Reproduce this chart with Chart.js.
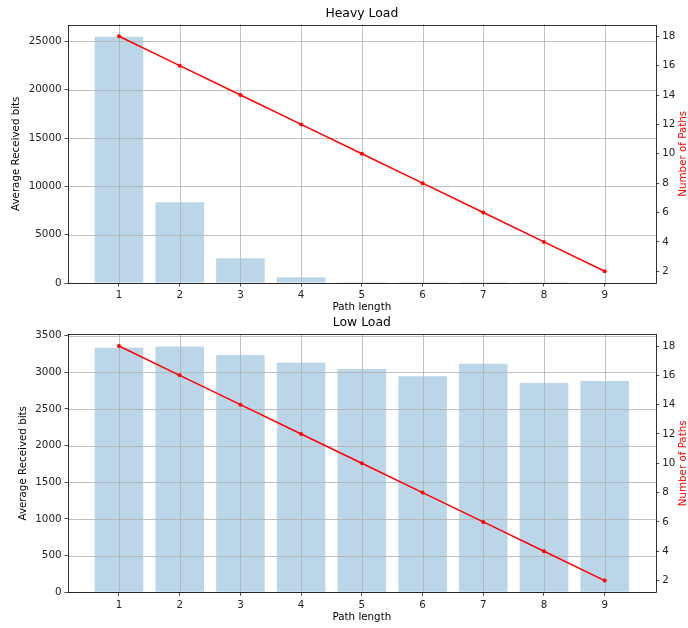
<!DOCTYPE html>
<html lang="en">
<head>
    <meta charset="UTF-8">
    <title>Heavy Load / Low Load</title>
    <script src="https://cdn.jsdelivr.net/npm/chart.js"></script>
    <style>
        body {
            margin: 0;
            padding: 0;
            background: white;
        }
        canvas {
            display: block;
        }
    </style>
</head>
<body>

<canvas id="graficoHeavy" width="688" height="314"></canvas>
<canvas id="graficoLow" width="688" height="314"></canvas>

<script>
    // Datos
    const pathLength = [1, 2, 3, 4, 5, 6, 7, 8, 9];
    const heavyBits = [25470, 8350, 2555, 590, 100, 12, 3, 1, 0];
    const lowBits = [3335, 3350, 3235, 3130, 3045, 2945, 3115, 2855, 2880];
    const numPaths = [18, 16, 14, 12, 10, 8, 6, 4, 2];

    const heavyTicks = [0, 5000, 10000, 15000, 20000, 25000];
    const lowTicks = [0, 500, 1000, 1500, 2000, 2500, 3000, 3500];
    const pathTicks = [2, 4, 6, 8, 10, 12, 14, 16, 18];

    Chart.defaults.font.family = '"DejaVu Sans"';
    Chart.defaults.font.size = 10.3;
    Chart.defaults.color = '#222';

    // rejilla encima de las barras pero debajo de la linea (como matplotlib)
    const rejilla = {
        id: 'rejilla',
        beforeDatasetDraw(chart, args) {
            if (args.index !== 0) return;
            const ctx = chart.ctx;
            const a = chart.chartArea;
            const sx = chart.scales.x;
            const sy = chart.scales.y;
            ctx.save();
            ctx.strokeStyle = '#b0b0b0';
            ctx.lineWidth = 0.8;
            ctx.beginPath();
            sx.ticks.forEach(t => {
                const px = Math.round(sx.getPixelForValue(t.value)) + 0.5;
                ctx.moveTo(px, a.top);
                ctx.lineTo(px, a.bottom);
            });
            sy.ticks.forEach(t => {
                const py = Math.round(sy.getPixelForValue(t.value)) + 0.5;
                ctx.moveTo(a.left, py);
                ctx.lineTo(a.right, py);
            });
            ctx.stroke();
            ctx.restore();
        }
    };

    // marco, titulo y etiqueta derecha
    const marco = {
        id: 'marco',
        afterDraw(chart, args, opts) {
            const ctx = chart.ctx;
            const a = chart.chartArea;
            ctx.save();
            ctx.strokeStyle = '#000';
            ctx.lineWidth = 0.8;
            const l = Math.round(a.left) + 0.5, t = Math.round(a.top) + 0.5;
            const r = Math.round(a.right) + 0.5, b = Math.round(a.bottom) + 0.5;
            ctx.strokeRect(l, t, r - l, b - t);
            ctx.fillStyle = '#000';
            ctx.font = '12.4px "DejaVu Sans"';
            ctx.textAlign = 'center';
            ctx.textBaseline = 'middle';
            ctx.fillText(opts.titulo, (a.left + a.right) / 2, opts.tituloY);
            ctx.translate(683, (a.top + a.bottom) / 2);
            ctx.rotate(-Math.PI / 2);
            ctx.fillStyle = 'red';
            ctx.font = '10.3px "DejaVu Sans"';
            ctx.fillText('Number of Paths', 0, 0);
            ctx.restore();
        }
    };

    function setTicks(valores) {
        return s => { s.ticks = valores.map(v => ({ value: v })); };
    }

    function crear(id, bits, yTicks, yMax, cfg) {
        const ctx = document.getElementById(id).getContext('2d');
        return new Chart(ctx, {
            type: 'bar',
            data: {
                datasets: [{
                    type: 'line',
                    label: 'Number of Paths',
                    data: pathLength.map((x, i) => ({ x: x, y: numPaths[i] })),
                    yAxisID: 'y1',
                    borderColor: 'red',
                    backgroundColor: 'red',
                    borderWidth: 1.5,
                    pointRadius: 2,
                    pointBorderWidth: 0,
                    tension: 0,
                    order: 0
                }, {
                    type: 'bar',
                    label: 'Average Received bits',
                    data: pathLength.map((x, i) => ({ x: x, y: bits[i] })),
                    yAxisID: 'y',
                    backgroundColor: 'rgba(31,119,180,0.3)',
                    borderWidth: 0,
                    categoryPercentage: 1.0,
                    barPercentage: 0.8,
                    order: 1
                }]
            },
            options: {
                responsive: false,
                animation: false,
                layout: { padding: { top: cfg.padTop, left: 0, right: 0, bottom: 0 } },
                plugins: {
                    legend: { display: false },
                    tooltip: { enabled: false },
                    marco: { titulo: cfg.titulo, tituloY: cfg.tituloY }
                },
                scales: {
                    x: {
                        type: 'linear',
                        min: 0.16,
                        max: 9.84,
                        offset: false,
                        afterBuildTicks: setTicks(pathLength),
                        afterFit: s => { s.height = cfg.xHeight; },
                        grid: {
                            offset: false,
                            drawOnChartArea: false,
                            tickLength: 3.5,
                            tickColor: '#222',
                            tickWidth: 0.8
                        },
                        border: { display: false },
                        ticks: { padding: 3, maxRotation: 0 },
                        title: {
                            display: true,
                            text: 'Path length',
                            color: '#000',
                            padding: { top: 0, bottom: cfg.xTitlePad }
                        }
                    },
                    y: {
                        type: 'linear',
                        position: 'left',
                        min: 0,
                        max: yMax,
                        afterBuildTicks: setTicks(yTicks),
                        afterFit: s => { s.width = 68; },
                        grid: {
                            drawOnChartArea: false,
                            tickLength: 3.5,
                            tickColor: '#222',
                            tickWidth: 0.8
                        },
                        border: { display: false },
                        ticks: { padding: 3, callback: v => String(v) },
                        title: {
                            display: true,
                            text: 'Average Received bits',
                            color: '#000',
                            padding: { top: cfg.yTitlePad, bottom: 0 }
                        }
                    },
                    y1: {
                        type: 'linear',
                        position: 'right',
                        min: 1.2,
                        max: 18.8,
                        afterBuildTicks: setTicks(pathTicks),
                        afterFit: s => { s.width = 32.3; },
                        grid: {
                            drawOnChartArea: false,
                            tickLength: 3.5,
                            tickColor: '#222',
                            tickWidth: 0.8
                        },
                        border: { display: false },
                        ticks: { padding: 3, callback: v => String(v) }
                    }
                }
            },
            plugins: [rejilla, marco]
        });
    }

    crear('graficoHeavy', heavyBits, heavyTicks, 26743, {
        titulo: 'Heavy Load', tituloY: 14, padTop: 24.5,
        xHeight: 31, xTitlePad: 0, yTitlePad: 10.5
    });

    crear('graficoLow', lowBits, lowTicks, 3517.5, {
        titulo: 'Low Load', tituloY: 9, padTop: 20.3,
        xHeight: 35.7, xTitlePad: 4, yTitlePad: 17
    });
</script>

</body>
</html>
